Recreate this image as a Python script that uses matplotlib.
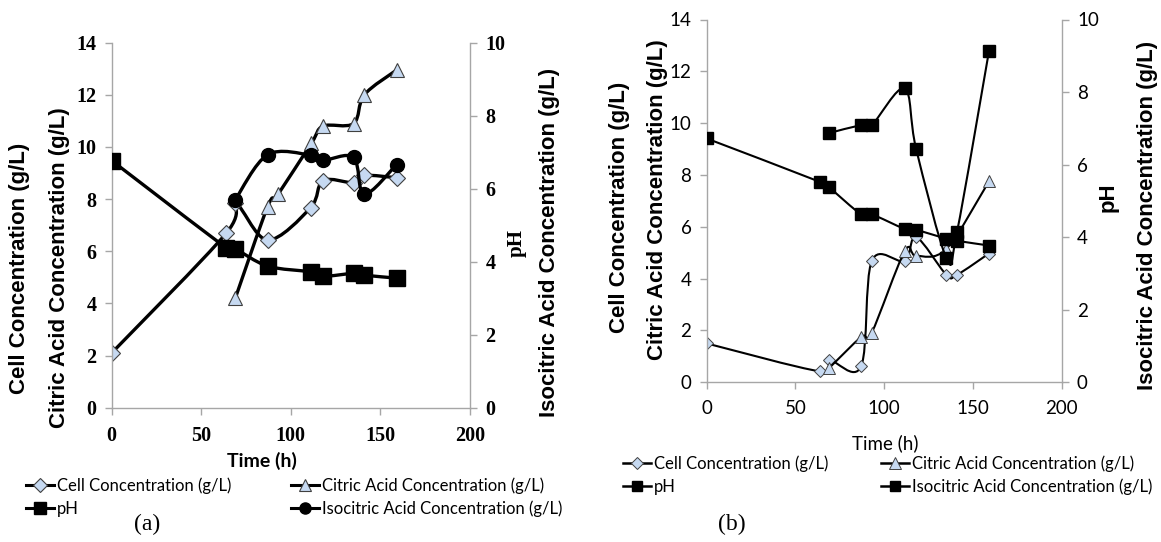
import numpy as np
import matplotlib
matplotlib.use("Agg")
import matplotlib.pyplot as plt
from matplotlib.path import Path
from matplotlib.patches import PathPatch
from matplotlib.lines import Line2D

# ---- panel (a) data ----
t_cell_a = [0, 64, 69, 87, 111, 118, 135, 141, 159]
cell_a = [2.1, 6.7, 7.85, 6.43, 7.67, 8.71, 8.63, 8.91, 8.82]
t_citric_a = [69, 87, 93, 111.5, 118, 135, 141, 159]
citric_a = [4.2, 7.7, 8.2, 10.15, 10.8, 10.9, 12.0, 12.95]
t_ph_a = [0, 64, 69, 87, 111, 118, 135, 141, 159]
ph_a = [6.77, 4.38, 4.35, 3.88, 3.72, 3.6, 3.68, 3.63, 3.55]
t_iso_a = [69, 87, 111, 118, 135, 141, 159]
iso_a = [5.7, 6.93, 6.92, 6.78, 6.86, 5.85, 6.66]

# ---- panel (b) data ----
t_cell_b = [0, 64, 69, 87, 93, 111.5, 118, 135, 141, 159]
cell_b = [1.5, 0.42, 0.86, 0.62, 4.68, 4.68, 5.6, 4.15, 4.15, 4.97]
t_citric_b = [69, 87, 93, 111.5, 118, 135, 159]
citric_b = [0.55, 1.75, 1.92, 5.05, 4.88, 5.15, 7.75]
t_ph_b = [0, 64, 69, 87, 93, 111.5, 118, 135, 141, 159]
ph_b = [6.72, 5.52, 5.37, 4.63, 4.63, 4.23, 4.2, 3.96, 3.9, 3.77]
t_iso_b = [69, 87, 93, 111.5, 118, 135, 141, 159]
iso_b = [6.87, 7.09, 7.09, 8.1, 6.43, 3.43, 4.14, 9.12]

x_ticks = [0, 50, 100, 150, 200]
left_ticks = [0, 2, 4, 6, 8, 10, 12, 14]
right_ticks = [0, 2, 4, 6, 8, 10]
labels_col1 = ["Cell Concentration (g/L)", "pH"]
labels_col2 = ["Citric Acid Concentration (g/L)", "Isocitric Acid Concentration (g/L)"]

LBLUE = "#c6d9f1"
GRAY = "#a6a6a6"
CAL = ["Lato", "DejaVu Sans"]
W, H = 1161, 542


def smooth(x, y):
    # Excel-like smoothed line: Catmull-Rom segments as cubic Beziers
    p = np.column_stack([x, y]).astype(float)
    n = len(p)
    verts = [p[0]]
    codes = [Path.MOVETO]
    for i in range(n - 1):
        p0 = p[max(i - 1, 0)]
        p1 = p[i]
        p2 = p[i + 1]
        p3 = p[min(i + 2, n - 1)]
        verts += [p1 + (p2 - p0) / 6, p2 - (p3 - p1) / 6, p2]
        codes += [Path.CURVE4] * 3
    return Path(np.array(verts), codes)


def series(ax, x, y, lw, z, **mk):
    ax.add_patch(PathPatch(smooth(x, y), fill=False, ec="black", lw=lw,
                           joinstyle="round", capstyle="round", zorder=z))
    ax.plot(x, y, ls="none", zorder=z + 0.5, **mk)


def style_axes(ax, ax2, tick_font):
    for a in (ax, ax2):
        a.spines["top"].set_visible(False)
        for s in ["left", "right", "bottom"]:
            a.spines[s].set_color(GRAY)
            a.spines[s].set_linewidth(1.0)
        a.tick_params(colors=GRAY, length=5, width=1, labelcolor="black")
    ax.spines["right"].set_visible(False)
    ax2.spines["left"].set_visible(False)
    ax2.spines["bottom"].set_visible(False)
    ax.set_xlim(0, 200)
    ax.set_ylim(0, 14)
    ax2.set_ylim(0, 10)
    ax.set_xticks(x_ticks)
    ax.set_yticks(left_ticks)
    ax2.set_yticks(right_ticks)
    for lab in ax.get_xticklabels() + ax.get_yticklabels() + ax2.get_yticklabels():
        lab.set(**tick_font)
    ax.tick_params(axis="x", pad=8)
    ax.tick_params(axis="y", pad=6)
    ax2.tick_params(axis="y", pad=6)


def legend_col(handles, labels, x, y):
    fig.legend(handles, labels, loc="center left",
               bbox_to_anchor=(x / W, 1 - y / H), frameon=False, borderpad=0,
               borderaxespad=0, handlelength=1.7, handletextpad=0.15,
               labelspacing=0.4, prop=dict(family=CAL, size=12))


def vlabel(x, y, s, size=16, family="Liberation Sans"):
    fig.text(x / W, 1 - y / H, s, rotation=90, ha="center", va="center",
             family=family, weight="bold", fontsize=size)


fig = plt.figure(figsize=(11.61, 5.42), dpi=100)

# ---------------- panel (a) ----------------
ax = fig.add_axes([111.7 / W, 1 - 407.7 / H, 358.3 / W, 365 / H])
ax2 = ax.twinx()
style_axes(ax, ax2, dict(family="Liberation Serif", weight="bold", size=14.5))

lw_a = 2.4
dia_a = dict(marker="D", ms=8, mfc=LBLUE, mec="#404040", mew=0.8)
tri_a = dict(marker="^", ms=10, mfc=LBLUE, mec="#404040", mew=0.8)
sq_a = dict(marker="s", ms=11, mfc="black", mec="black")
cir_a = dict(marker="o", ms=10, mfc="black", mec="black")

series(ax, t_cell_a, cell_a, lw_a, 2, **dia_a)
series(ax, t_citric_a, citric_a, lw_a, 3, **tri_a)
series(ax2, t_ph_a, ph_a, lw_a, 2, **sq_a)
series(ax2, t_iso_a, iso_a, lw_a, 3, **cir_a)

fig.text(262 / W, 1 - 461 / H, "Time (h)", ha="center", va="center",
         family=CAL, weight="bold", fontsize=14)
vlabel(20, 268, "Cell Concentration (g/L)")
vlabel(60, 268, "Citric Acid Concentration (g/L)")
vlabel(517, 243, "pH", size=15, family="Liberation Serif")
vlabel(550, 242, "Isocitric Acid Concentration (g/L)")
fig.text(147 / W, 1 - 524 / H, "(a)", ha="center", va="center",
         family="Liberation Serif", fontsize=17)

hl = dict(color="black", lw=2.2)
legend_col([Line2D([], [], **hl, **dict(dia_a, ms=7)),
            Line2D([], [], **hl, **dict(sq_a, ms=8))],
           labels_col1, 26, 497)
legend_col([Line2D([], [], **hl, **dict(tri_a, ms=8)),
            Line2D([], [], **hl, **dict(cir_a, ms=8))],
           labels_col2, 291, 497)

# ---------------- panel (b) ----------------
bx = fig.add_axes([706.7 / W, 1 - 382.3 / H, 355 / W, 362.8 / H])
bx2 = bx.twinx()
style_axes(bx, bx2, dict(family=CAL, size=13.5))

lw_b = 1.5
dia_b = dict(marker="D", ms=6.5, mfc=LBLUE, mec="#404040", mew=0.7)
tri_b = dict(marker="^", ms=8, mfc=LBLUE, mec="#404040", mew=0.7)
sq_b = dict(marker="s", ms=8.5, mfc="black", mec="black")

series(bx, t_cell_b, cell_b, lw_b, 2, **dia_b)
series(bx, t_citric_b, citric_b, lw_b, 3, **tri_b)
series(bx2, t_ph_b, ph_b, lw_b, 2, **sq_b)
series(bx2, t_iso_b, iso_b, lw_b, 3, **sq_b)

fig.text(885 / W, 1 - 443 / H, "Time (h)", ha="center", va="center",
         family=CAL, fontsize=13.5)
vlabel(620, 207, "Cell Concentration (g/L)")
vlabel(657, 200, "Citric Acid Concentration (g/L)")
vlabel(1108, 197, "pH")
vlabel(1147, 215, "Isocitric Acid Concentration (g/L)")
fig.text(732 / W, 1 - 524 / H, "(b)", ha="center", va="center",
         family="Liberation Serif", fontsize=17)

hb = dict(color="black", lw=1.8)
legend_col([Line2D([], [], **hb, **dia_b), Line2D([], [], **hb, **dict(sq_b, ms=7))],
           labels_col1, 623, 475)
legend_col([Line2D([], [], **hb, **tri_b), Line2D([], [], **hb, **dict(sq_b, ms=7))],
           labels_col2, 881, 475)

fig.savefig("out.png", dpi=100)
